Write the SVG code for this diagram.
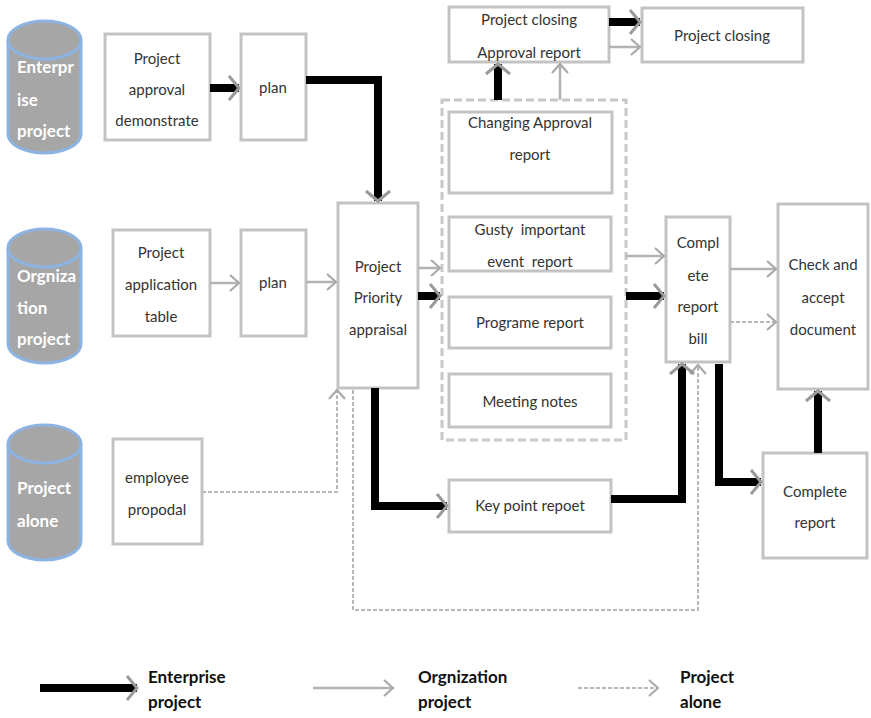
<svg xmlns="http://www.w3.org/2000/svg" width="871" height="718" viewBox="0 0 871 718">
  <style>
    .box { fill: #ffffff; stroke: #c3c3c3; stroke-width: 3; }
    .cyl { fill: #a6a6a6; stroke: #8db3e2; stroke-width: 3; }
    .cylt { font-family: Lato, "Liberation Sans", sans-serif; font-size: 17px; font-weight: bold; fill: #ffffff; }
    .t { font-family: Lato, "Liberation Sans", sans-serif; font-size: 15px; fill: #333333; text-anchor: middle; white-space: pre; }
    .lg { font-family: Lato, "Liberation Sans", sans-serif; font-size: 17px; font-weight: bold; fill: #111111; }
    .thick { fill: none; stroke: #000000; stroke-width: 8; marker-end: url(#headThick); }
    .thin { fill: none; stroke: #b3b3b3; stroke-width: 2.5; marker-end: url(#headThin); }
    .dash { fill: none; stroke: #b8b8b8; stroke-width: 2; stroke-dasharray: 4 2; marker-end: url(#headThin); }
    .frame { fill: none; stroke: #c8c8c8; stroke-width: 3; stroke-dasharray: 8 4; }
  </style>
  <defs>
    <marker id="headThick" markerUnits="userSpaceOnUse" markerWidth="16" markerHeight="28" refX="12" refY="13" orient="auto" overflow="visible">
      <path d="M2,1 L12,13 L2,25" fill="none" stroke="#9a9a9a" stroke-width="3"/>
    </marker>
    <marker id="headThin" markerUnits="userSpaceOnUse" markerWidth="14" markerHeight="20" refX="10" refY="9" orient="auto" overflow="visible">
      <path d="M1,1 L10,9 L1,17" fill="none" stroke="#aaaaaa" stroke-width="2.2"/>
    </marker>
  </defs>

  <!-- source cylinders -->
  <g id="enterprise-project">
    <path class="cyl" d="M8,40 A36.5,19 0 0 1 81,40 L81,134 A36.5,19 0 0 1 8,134 Z"/>
    <path class="cyl" d="M8,40 A36.5,19 0 0 0 81,40" fill="none"/>
    <text class="cylt" x="17" y="73">Enterpr</text>
    <text class="cylt" x="17" y="106">ise</text>
    <text class="cylt" x="17" y="137">project</text>
  </g>
  <g id="orgnization-project">
    <path class="cyl" d="M8,248 A36.5,19 0 0 1 81,248 L81,344 A36.5,19 0 0 1 8,344 Z"/>
    <path class="cyl" d="M8,248 A36.5,19 0 0 0 81,248" fill="none"/>
    <text class="cylt" x="17" y="282">Orgniza</text>
    <text class="cylt" x="17" y="314">tion</text>
    <text class="cylt" x="17" y="345">project</text>
  </g>
  <g id="project-alone">
    <path class="cyl" d="M8,444 A36.5,19 0 0 1 81,444 L81,541 A36.5,19 0 0 1 8,541 Z"/>
    <path class="cyl" d="M8,444 A36.5,19 0 0 0 81,444" fill="none"/>
    <text class="cylt" x="17" y="494">Project</text>
    <text class="cylt" x="17" y="527">alone</text>
  </g>

  <!-- process boxes -->
  <g id="approval-demonstrate">
    <rect class="box" x="105" y="34" width="105" height="106"/>
    <text class="t" x="157" y="64">Project</text>
    <text class="t" x="157" y="95">approval</text>
    <text class="t" x="157" y="126">demonstrate</text>
  </g>
  <g id="plan-top">
    <rect class="box" x="241" y="34" width="65" height="106"/>
    <text class="t" x="273" y="93">plan</text>
  </g>
  <g id="application-table">
    <rect class="box" x="113" y="230" width="97" height="106"/>
    <text class="t" x="161" y="258">Project</text>
    <text class="t" x="161" y="290">application</text>
    <text class="t" x="161" y="322">table</text>
  </g>
  <g id="plan-mid">
    <rect class="box" x="241" y="230" width="65" height="106"/>
    <text class="t" x="273" y="288">plan</text>
  </g>
  <g id="employee-propodal">
    <rect class="box" x="113" y="439" width="89" height="105"/>
    <text class="t" x="157" y="483">employee</text>
    <text class="t" x="157" y="515">propodal</text>
  </g>
  <g id="priority-appraisal">
    <rect class="box" x="338" y="203" width="80" height="185"/>
    <text class="t" x="378" y="272">Project</text>
    <text class="t" x="378" y="303">Priority</text>
    <text class="t" x="378" y="335">appraisal</text>
  </g>

  <!-- report group -->
  <g id="report-group">
    <rect class="frame" x="442" y="100" width="184" height="340"/>
  </g>
  <g id="changing-approval">
    <rect class="box" x="449" y="112" width="163" height="81"/>
    <text class="t" x="530" y="128">Changing Approval</text>
    <text class="t" x="530" y="160">report</text>
  </g>
  <g id="gusty-event">
    <rect class="box" x="449" y="217" width="162" height="54"/>
    <text class="t" x="530" y="235">Gusty  important</text>
    <text class="t" x="530" y="267">event  report</text>
  </g>
  <g id="programe-report">
    <rect class="box" x="449" y="297" width="162" height="51"/>
    <text class="t" x="530" y="328">Programe report</text>
  </g>
  <g id="meeting-notes">
    <rect class="box" x="449" y="374" width="162" height="53"/>
    <text class="t" x="530" y="407">Meeting notes</text>
  </g>
  <g id="closing-approval">
    <rect class="box" x="449" y="7" width="160" height="55"/>
    <text class="t" x="529" y="25">Project closing</text>
    <text class="t" x="529" y="58">Approval report</text>
  </g>
  <g id="project-closing">
    <rect class="box" x="642" y="8" width="161" height="54"/>
    <text class="t" x="722" y="41">Project closing</text>
  </g>
  <g id="key-point">
    <rect class="box" x="449" y="480" width="162" height="52"/>
    <text class="t" x="530" y="511">Key point repoet</text>
  </g>
  <g id="report-bill">
    <rect class="box" x="666" y="217" width="64" height="145"/>
    <text class="t" x="698" y="248">Compl</text>
    <text class="t" x="698" y="281">ete</text>
    <text class="t" x="698" y="312">report</text>
    <text class="t" x="698" y="344">bill</text>
  </g>
  <g id="check-accept">
    <rect class="box" x="778" y="204" width="90" height="185"/>
    <text class="t" x="823" y="270">Check and</text>
    <text class="t" x="823" y="303">accept</text>
    <text class="t" x="823" y="335">document</text>
  </g>
  <g id="complete-report">
    <rect class="box" x="763" y="453" width="104" height="105"/>
    <text class="t" x="815" y="497">Complete</text>
    <text class="t" x="815" y="528">report</text>
  </g>

  <!-- connectors -->
  <g id="connectors">
    <path class="thick" d="M210,88 L239,88"/>
    <path class="thick" d="M306,80 L378,80 L378,201"/>
    <path class="thin" d="M210,283 L239,283"/>
    <path class="thin" d="M306,282 L336,282"/>
    <path class="dash" d="M202,492 L337,492 L337,390"/>
    <path class="dash" d="M353,390 L353,610 L698,610 L698,365"/>
    <path class="thin" d="M418,268 L440,268"/>
    <path class="thick" d="M418,296 L440,296"/>
    <path class="thick" d="M375,388 L375,506 L447,506"/>
    <path class="thick" d="M498,100 L498,64"/>
    <path class="thin" d="M560,100 L560,64"/>
    <path class="thick" d="M609,22 L640,22"/>
    <path class="thin" d="M609,47 L640,47"/>
    <path class="thin" d="M626,256 L664,256"/>
    <path class="thick" d="M626,296 L664,296"/>
    <path class="thick" d="M611,499 L682,499 L682,364"/>
    <path class="thick" d="M719,364 L719,482 L761,482"/>
    <path class="thin" d="M730,269 L776,269"/>
    <path class="dash" d="M730,322 L776,322"/>
    <path class="thick" d="M818,453 L818,391"/>
  </g>

  <!-- legend -->
  <g id="legend">
    <path class="thick" d="M40,688 L137,688"/>
    <text class="lg" x="148" y="683">Enterprise</text>
    <text class="lg" x="148" y="708">project</text>
    <path class="thin" d="M313,688 L393,688"/>
    <text class="lg" x="418" y="683">Orgnization</text>
    <text class="lg" x="418" y="708">project</text>
    <path class="dash" d="M578,688 L658,688"/>
    <text class="lg" x="680" y="683">Project</text>
    <text class="lg" x="680" y="708">alone</text>
  </g>
</svg>
